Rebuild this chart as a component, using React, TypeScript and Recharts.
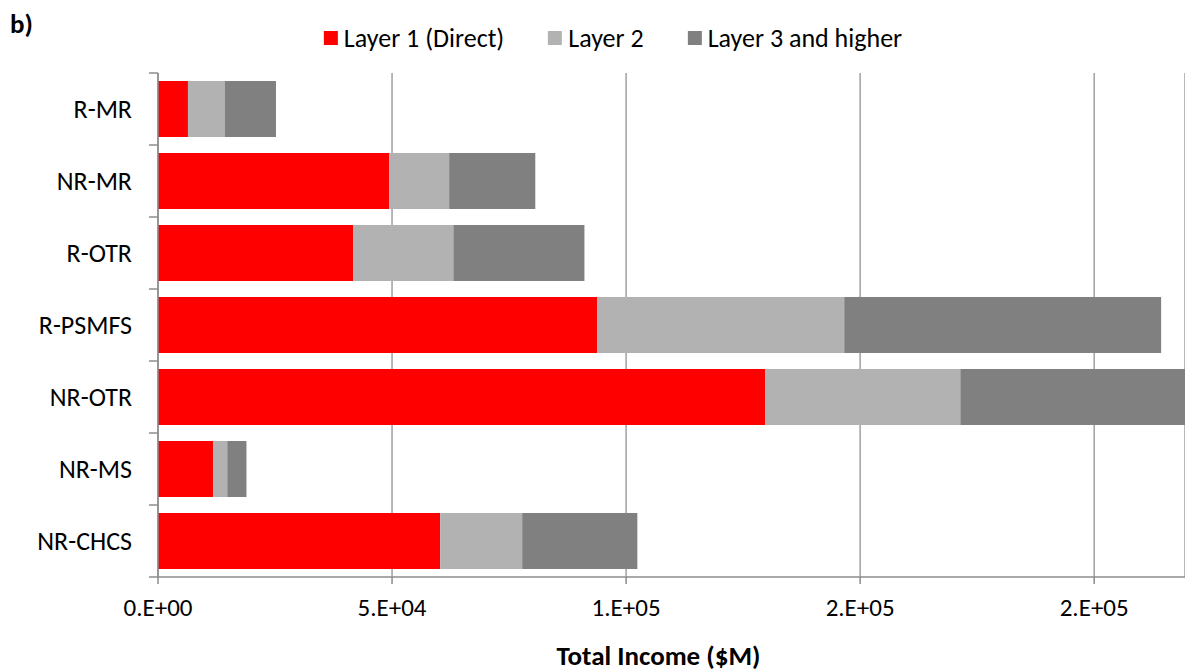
import React from 'react';
import { BarChart, Bar, XAxis, YAxis, CartesianGrid } from 'recharts';

const categories = ['R-MR', 'NR-MR', 'R-OTR', 'R-PSMFS', 'NR-OTR', 'NR-MS', 'NR-CHCS'];
const layer1 = [6400, 49400, 41700, 93800, 129700, 11800, 60300];
const layer2 = [7900, 12800, 21400, 52800, 41700, 3000, 17500];
const layer3 = [10900, 18400, 28000, 67700, 55000, 4100, 24600];

const seriesKeys = ['l1', 'l2', 'l3'];
const seriesNames = ['Layer 1 (Direct)', 'Layer 2', 'Layer 3 and higher'];
const seriesColors = ['#FF0000', '#B2B2B2', '#808080'];
const xTicks = [0, 50000, 100000, 150000, 200000];

const W = 1185;
const H = 672;
const PLOT_TOP = 73;
const PLOT_BOTTOM = 577;
const Y_AXIS_W = 158;
const BAND = (PLOT_BOTTOM - PLOT_TOP) / categories.length;
const FONT = 'Carlito, Calibri, Lato, sans-serif';
const AXIS_GRAY = '#8C8C8C';

const data = categories.map((name, i) => ({
  name,
  l1: layer1[i],
  l2: layer2[i],
  l3: layer3[i],
}));

// Excel-style "5.E+04"
const fmtSci = (v: number) => {
  const [m, e] = v.toExponential(0).split('e');
  return `${m}.E${e[0]}${e.slice(1).padStart(2, '0')}`;
};

const CategoryTick = ({ y, payload, index }: any) => {
  const top = y - BAND / 2;
  const bottom = y + BAND / 2;
  return (
    <g>
      <line x1={Y_AXIS_W - 9} x2={Y_AXIS_W} y1={top} y2={top} stroke={AXIS_GRAY} strokeWidth={1.5} />
      {index === categories.length - 1 && (
        <line x1={Y_AXIS_W - 9} x2={Y_AXIS_W} y1={bottom} y2={bottom} stroke={AXIS_GRAY} strokeWidth={1.5} />
      )}
      <text x={Y_AXIS_W - 26} y={y} dy="0.36em" textAnchor="end" fill="#000" fontSize={26} fontFamily={FONT}>
        {payload.value}
      </text>
    </g>
  );
};

export default function App() {
  return (
    <div style={{ position: 'absolute', left: 0, top: 0, width: W, height: H, background: '#fff', fontFamily: FONT }}>
      <div style={{ position: 'absolute', left: 10, top: 7, fontSize: 27, fontWeight: 700, color: '#000' }}>b)</div>
      <div
        style={{
          position: 'absolute',
          left: 613,
          top: 22,
          transform: 'translateX(-50%)',
          display: 'flex',
          alignItems: 'center',
          whiteSpace: 'nowrap',
          fontSize: 26,
          lineHeight: '32px',
          color: '#000',
        }}
      >
        {seriesNames.map((n, i) => (
          <div key={n} style={{ display: 'flex', alignItems: 'center', marginRight: i < seriesNames.length - 1 ? 44 : 0 }}>
            <span style={{ width: 14, height: 14, background: seriesColors[i], marginRight: 6, display: 'inline-block' }} />
            <span>{n}</span>
          </div>
        ))}
      </div>
      <BarChart
        width={W}
        height={H}
        data={data}
        layout="vertical"
        barSize={56}
        margin={{ top: PLOT_TOP, right: 0, bottom: 0, left: 0 }}
      >
        <CartesianGrid horizontal={false} vertical stroke="#A0A0A0" strokeWidth={1.5} />
        <XAxis
          type="number"
          domain={[0, 219400]}
          allowDataOverflow
          ticks={xTicks}
          tickFormatter={fmtSci}
          height={H - PLOT_BOTTOM}
          axisLine={{ stroke: AXIS_GRAY, strokeWidth: 1.5 }}
          tickLine={{ stroke: AXIS_GRAY, strokeWidth: 1.5 }}
          tickSize={7}
          tickMargin={14}
          tick={{ fill: '#000', fontSize: 25, fontFamily: FONT }}
          label={{
            value: 'Total Income ($M)',
            position: 'insideBottom',
            offset: 7,
            dx: -13,
            style: { fill: '#000', fontSize: 27, fontWeight: 700, fontFamily: FONT },
          }}
        />
        <YAxis
          type="category"
          dataKey="name"
          width={Y_AXIS_W}
          axisLine={{ stroke: AXIS_GRAY, strokeWidth: 1.5 }}
          tickLine={false}
          tick={<CategoryTick />}
          interval={0}
        />
        {seriesKeys.map((k, i) => (
          <Bar key={k} dataKey={k} name={seriesNames[i]} stackId="a" fill={seriesColors[i]} isAnimationActive={false} />
        ))}
      </BarChart>
    </div>
  );
}
